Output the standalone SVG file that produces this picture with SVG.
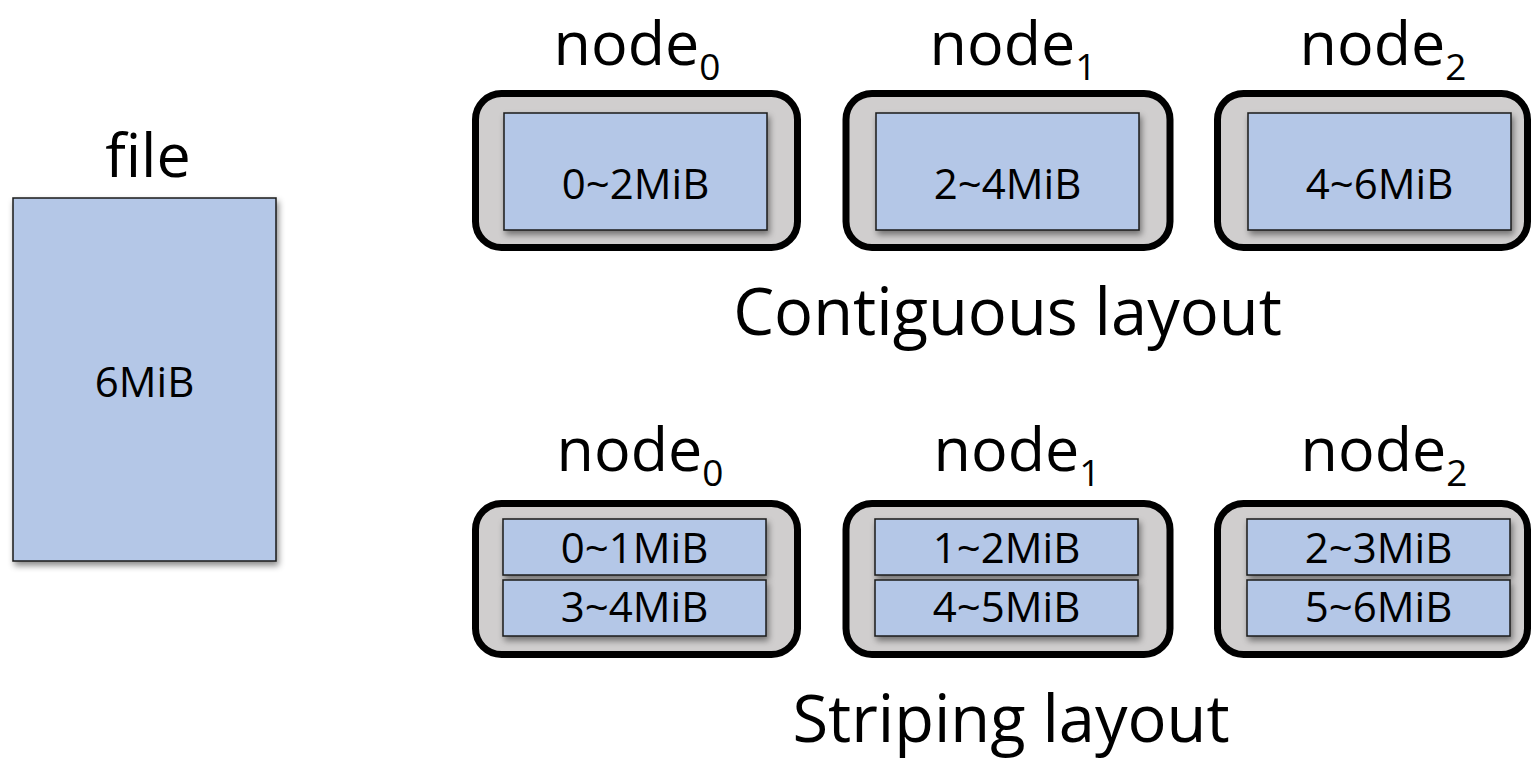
<svg xmlns="http://www.w3.org/2000/svg" width="1531" height="759" viewBox="0 0 1531 759">
  <defs>
    <filter id="shadow" x="-10%" y="-10%" width="125%" height="130%">
      <feDropShadow dx="2" dy="4" stdDeviation="3" flood-color="#000" flood-opacity="0.45"/>
    </filter>
  </defs>
  <style>
    text { font-family: "Open Sans", "Liberation Sans", sans-serif; fill: #000; }
    .label { font-size: 61px; text-anchor: middle; }
    .sub { font-size: 37px; }
    .caption { font-size: 65px; text-anchor: middle; }
    .chunk-text { font-size: 42px; text-anchor: middle; }
    .node { fill: #D0CECE; stroke: #000; stroke-width: 7; }
    .chunk { fill: #B4C7E7; stroke: #1a1a1a; stroke-width: 1.5; filter: url(#shadow); }
  </style>
  <rect width="1531" height="759" fill="#fff"/>

  <!-- the whole file -->
  <g id="file">
    <text class="label" x="148" y="177">file</text>
    <rect class="chunk" x="13" y="198" width="263" height="363"/>
    <text class="chunk-text" x="144.5" y="397">6MiB</text>
  </g>

  <!-- contiguous layout: one 2MiB chunk per node -->
  <g id="contiguous-node0">
    <text class="label" x="637" y="65">node<tspan class="sub" dy="15">0</tspan></text>
    <rect class="node" x="475.5" y="93.5" width="322" height="154" rx="26"/>
    <rect class="chunk" x="504" y="113" width="263" height="117"/>
    <text class="chunk-text" x="635.5" y="199">0~2MiB</text>
  </g>
  <g id="contiguous-node1">
    <text class="label" x="1013" y="65">node<tspan class="sub" dy="15">1</tspan></text>
    <rect class="node" x="846" y="93.5" width="324" height="154" rx="26"/>
    <rect class="chunk" x="876" y="113" width="263" height="117"/>
    <text class="chunk-text" x="1007.5" y="199">2~4MiB</text>
  </g>
  <g id="contiguous-node2">
    <text class="label" x="1383" y="65">node<tspan class="sub" dy="15">2</tspan></text>
    <rect class="node" x="1217.5" y="93.5" width="310" height="154" rx="26"/>
    <rect class="chunk" x="1248" y="113" width="263" height="117"/>
    <text class="chunk-text" x="1379.5" y="199">4~6MiB</text>
  </g>
  <text class="caption" x="1007.5" y="335">Contiguous layout</text>

  <!-- striping layout: 1MiB stripes dealt round-robin -->
  <g id="striping-node0">
    <text class="label" x="640" y="471">node<tspan class="sub" dy="15">0</tspan></text>
    <rect class="node" x="475.5" y="503.5" width="322" height="151" rx="26"/>
    <rect class="chunk" x="503" y="519" width="263" height="56"/>
    <text class="chunk-text" x="634.5" y="563">0~1MiB</text>
    <rect class="chunk" x="503" y="580" width="263" height="56"/>
    <text class="chunk-text" x="634.5" y="622">3~4MiB</text>
  </g>
  <g id="striping-node1">
    <text class="label" x="1017" y="471">node<tspan class="sub" dy="15">1</tspan></text>
    <rect class="node" x="846" y="503.5" width="324" height="151" rx="26"/>
    <rect class="chunk" x="875" y="519" width="263" height="56"/>
    <text class="chunk-text" x="1006.5" y="563">1~2MiB</text>
    <rect class="chunk" x="875" y="580" width="263" height="56"/>
    <text class="chunk-text" x="1006.5" y="622">4~5MiB</text>
  </g>
  <g id="striping-node2">
    <text class="label" x="1384" y="471">node<tspan class="sub" dy="15">2</tspan></text>
    <rect class="node" x="1217.5" y="503.5" width="310" height="151" rx="26"/>
    <rect class="chunk" x="1247" y="519" width="263" height="56"/>
    <text class="chunk-text" x="1378.5" y="563">2~3MiB</text>
    <rect class="chunk" x="1247" y="580" width="263" height="56"/>
    <text class="chunk-text" x="1378.5" y="622">5~6MiB</text>
  </g>
  <text class="caption" x="1011" y="742">Striping layout</text>
</svg>
